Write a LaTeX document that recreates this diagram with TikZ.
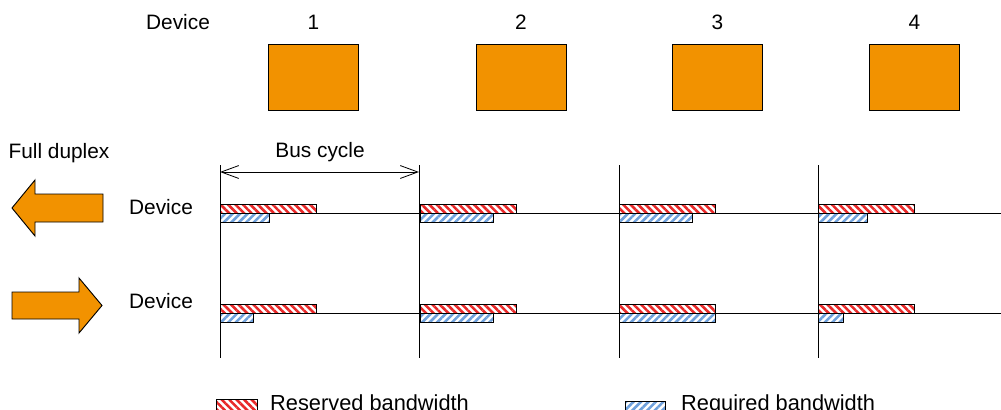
\documentclass[tikz,border=0pt]{standalone}
\usepackage{fontspec}
\setmainfont{Liberation Sans}
\usetikzlibrary{arrows.meta, patterns.meta, positioning}
\definecolor{devorange}{RGB}{242,146,0}
\definecolor{resred}{RGB}{232,40,40}
\definecolor{reqblue}{RGB}{110,160,220}
\tikzset{
  lbl/.style={font=\fontsize{17.8}{20}\selectfont, inner sep=0pt},
  legendlbl/.style={font=\fontsize{18.6}{21}\selectfont, inner sep=0pt},
  device/.style={draw, fill=devorange, line width=0.8pt, minimum width=2.7cm, minimum height=1.98cm, inner sep=0pt},
  reserved/.style={draw, line width=0.6pt, pattern={Lines[angle=-45, distance=4.5pt, line width=2.2pt]}, pattern color=resred},
  required/.style={draw, line width=0.6pt, pattern={Lines[angle=45, distance=4.5pt, line width=2.2pt]}, pattern color=reqblue},
  bigarrow/.style={draw, fill=devorange, line width=0.8pt, line join=miter},
}

\begin{document}
\begin{tikzpicture}[x=0.03cm, y=-0.03cm]
        \useasboundingbox (0,0) rectangle (1001,409);

        % devices on top
        \node[lbl] (hdr) at (178,22) {Device};
        \foreach \n/\x in {1/313.5, 2/521, 3/717.5, 4/914.5} {
            \node[lbl] (num\n) at (\x,22) {\n};
            \node[device] (dev\n) at (\x,77) {};
        }

        % full duplex arrows
        \node[lbl] (duplex) at (59,153) {Full duplex};
        \draw[bigarrow] (12,208) -- (35,180) -- (35,194) -- (103,194) -- (103,222) -- (35,222) -- (35,236) -- cycle;
        \draw[bigarrow] (12,292) -- (79,292) -- (79,278) -- (102,305.5) -- (79,333) -- (79,319) -- (12,319) -- cycle;
        \node[lbl] (devup) at (161,207) {Device};
        \node[lbl] (devdown) at (161,301) {Device};

        % time axes
        \coordinate (upl) at (220,213.5);
        \coordinate (upr) at (1001,213.5);
        \coordinate (dnl) at (220,313.5);
        \coordinate (dnr) at (1001,313.5);
        \draw[line width=0.7pt] (upl) -- (upr);
        \draw[line width=0.7pt] (dnl) -- (dnr);

        % bus cycle boundaries
        \foreach \c/\x in {1/220, 2/419, 3/619, 4/818} {
            \coordinate (top\c) at (\x,165);
            \coordinate (bot\c) at (\x,358);
            \draw[line width=0.7pt] (top\c) -- (bot\c);
        }

        % bus cycle span
        \coordinate (bcl) at (220,172);
        \coordinate (bcr) at (419,172);
        \draw[line width=0.7pt, {Straight Barb[length=15pt, width=11pt]}-{Straight Barb[length=15pt, width=11pt]}] (bcl) -- (bcr);
        \node[lbl] (buscycle) at (320,152) {Bus cycle};

        % bandwidth bars: x / reserved / required upper / required lower
        \foreach \x/\r/\qu/\qd in {220/96/49/33, 420/96/73/73, 619.5/96/72.5/96, 818.5/96/48.5/24.5} {
            \draw[reserved] (\x,204.5) rectangle ++(\r,9);
            \draw[required] (\x,213.5) rectangle ++(\qu,9);
            \draw[reserved] (\x,304.5) rectangle ++(\r,9);
            \draw[required] (\x,313.5) rectangle ++(\qd,9);
        }

        % legend
        \draw[reserved] (216,399) rectangle (257,412);
        \node[legendlbl, anchor=base west] (reslbl) at (270,410) {Reserved bandwidth};
        \draw[required] (625,401) rectangle (665,412);
        \node[legendlbl, anchor=base west] (reqlbl) at (681,410) {Required bandwidth};
\end{tikzpicture}
\end{document}
